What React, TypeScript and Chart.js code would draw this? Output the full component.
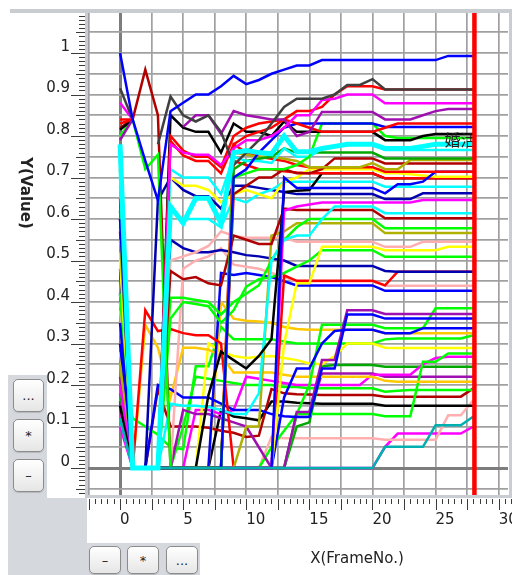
import React, { useEffect, useRef } from "react";
import { Chart, registerables } from "chart.js";

Chart.register(...registerables);

// ---------------- data ----------------
const frames = [0, 1, 2, 3, 4, 5, 6, 7, 8, 9, 10, 11, 12, 13, 14, 15, 16, 17, 18, 19, 20, 21, 22, 23, 24, 25, 26, 27, 28];
const N = null;

const cyanThick = [0.78, 0, 0, 0, 0.63, 0.59, 0.65, 0.65, 0.59, 0.76, 0.765, 0.76, 0.757, 0.8, 0.762, 0.762, 0.77, 0.775, 0.78, 0.78, 0.78, 0.77, 0.77, 0.77, 0.775, 0.78, 0.78, 0.78, 0.78];
const tealLow = [0.12, 0, 0, 0, 0, 0, 0, 0, 0, 0, 0, 0, 0, 0, 0, 0, 0, 0, 0, 0, 0, 0.051, 0.051, 0.051, 0.051, 0.103, 0.103, 0.103, 0.124];
const blueTop = [1.0, 0.84, 0.74, 0.645, 0.86, 0.88, 0.9, 0.9, 0.92, 0.945, 0.925, 0.935, 0.95, 0.96, 0.97, 0.97, 0.983, 0.983, 0.983, 0.983, 0.983, 0.983, 0.983, 0.983, 0.983, 0.983, 0.993, 0.993, 0.993];
const grayTop = [0.915, 0.84, N, 0.78, 0.895, 0.85, 0.835, 0.85, 0.81, 0.73, 0.76, 0.79, 0.83, 0.87, 0.89, 0.89, 0.89, 0.9, 0.923, 0.923, 0.937, 0.912, 0.912, 0.912, 0.912, 0.912, 0.912, 0.912, 0.912];
const magentaTop = [0.88, 0.84, N, 0, 0.78, 0.76, 0.755, 0.755, 0.73, 0.77, 0.79, 0.79, 0.8, 0.82, 0.85, 0.85, 0.887, 0.89, 0.9, 0.9, 0.9, 0.879, 0.879, 0.879, 0.879, 0.879, 0.879, 0.879, 0.879];
const purpleTop = [0.79, 0.84, N, N, N, 0.822, 0.85, 0.85, 0.805, 0.86, 0.85, 0.845, 0.84, 0.84, 0.8, 0.81, 0.858, 0.858, 0.858, 0.858, 0.858, 0.84, 0.84, 0.84, 0.85, 0.86, 0.865, 0.865, 0.865];
const redA = [0.84, 0.84, N, 0, 0.8, 0.765, 0.75, 0.75, 0.725, 0.8, 0.82, 0.83, 0.835, 0.84, 0.83, 0.82, 0.81, 0.81, 0.81, 0.81, 0.81, 0.82, 0.83, 0.83, 0.83, 0.83, 0.83, 0.83, 0.83];
const redB = [0.83, 0.84, N, 0, 0.788, 0.753, 0.74, 0.74, 0.71, 0.78, 0.8, 0.81, 0.82, 0.84, 0.86, 0.86, 0.87, 0.9, 0.92, 0.92, 0.92, 0.912, 0.912, 0.912, 0.912, 0.912, 0.912, 0.912, 0.912];
const blueB = [0.6, 0, 0, 0, 0, 0, 0, 0, 0, 0.7, 0.72, 0.76, 0.79, 0.82, 0.83, 0.83, 0.83, 0.83, 0.83, 0.83, 0.83, 0.822, 0.822, 0.822, 0.822, 0.822, 0.822, 0.822, 0.822];
const blackTop = [0.815, 0.84, N, 0, 0.85, 0.82, 0.81, 0.81, 0.76, 0.83, 0.81, 0.81, 0.8, 0.835, 0.81, 0.81, 0.81, 0.81, 0.81, 0.81, 0.81, 0.79, 0.79, 0.79, 0.8, 0.805, 0.805, 0.805, 0.805];
const greenTop = [0.8, 0.84, 0.72, 0.755, 0, 0, 0, 0, 0, 0.7, 0.71, 0.72, 0.72, 0.72, 0.73, 0.75, 0.83, 0.83, 0.83, 0.83, 0.83, 0.8, 0.795, 0.795, 0.795, 0.795, 0.795, 0.795, 0.795];
const cyanB = [0.7, 0, 0, 0, 0.72, 0.7, 0.7, 0.7, 0.66, 0.75, 0.74, 0.74, 0.735, 0.77, 0.75, 0.75, 0.77, 0.775, 0.78, 0.78, 0.78, 0.766, 0.766, 0.766, 0.766, 0.766, 0.766, 0.766, 0.766];
const darkGreenA = [0.62, 0, 0, 0, 0, 0, 0, 0, 0, 0.72, 0.74, 0.745, 0.75, 0.77, 0.76, 0.76, 0.76, 0.76, 0.76, 0.76, 0.76, 0.746, 0.746, 0.746, 0.746, 0.746, 0.746, 0.746, 0.746];
const oliveA = [0.55, 0, 0, 0, 0, 0, 0, 0, 0, 0.76, 0.755, 0.75, 0.75, 0.745, 0.74, 0.725, 0.725, 0.725, 0.725, 0.725, 0.735, 0.72, 0.72, 0.742, 0.742, 0.742, 0.742, 0.742, 0.742];
const darkRedPeak = [0.82, 0.84, 0.96, 0.85, 0, 0, 0, 0, 0, 0.66, 0.68, 0.7, 0.7, 0.72, 0.71, 0.71, 0.72, 0.746, 0.746, 0.746, 0.746, 0.734, 0.734, 0.734, 0.734, 0.734, 0.734, 0.734, 0.734];
const redC = [0.72, 0, 0, 0, 0, 0, 0, 0, 0, 0.78, 0.76, 0.75, 0.745, 0.74, 0.73, 0.725, 0.725, 0.725, 0.725, 0.725, 0.725, 0.714, 0.714, 0.714, 0.714, 0.714, 0.714, 0.714, 0.714];
const blueStep = [0.35, 0, 0, 0, 0, 0, 0, 0, 0, 0, 0, 0, 0, 0.7, 0.675, 0.675, 0.675, 0.675, 0.675, 0.675, 0.675, 0.662, 0.684, 0.684, 0.69, 0.714, 0.714, 0.714, 0.714];
const yellowA = [0.5, 0, 0, 0, 0.7, 0.68, 0.68, 0.67, 0.64, 0.66, 0.67, 0.66, 0.65, 0.69, 0.7, 0.72, 0.72, 0.72, 0.72, 0.72, 0.72, 0.71, 0.71, 0.708, 0.705, 0.702, 0.702, 0.702, 0.702];
const redD = [0.65, 0, 0, 0, 0, 0, 0, 0, 0, 0.74, 0.73, 0.72, 0.72, 0.715, 0.712, 0.71, 0.71, 0.71, 0.71, 0.71, 0.71, 0.698, 0.698, 0.698, 0.698, 0.698, 0.698, 0.698, 0.698];
const blackJump = [0.15, 0, 0, 0, 0, 0, 0, 0.175, 0.28, 0.26, 0.24, 0.27, 0.31, 0.665, 0.668, 0.67, 0.71, 0.71, 0.71, 0.71, 0.71, 0.698, 0.698, 0.698, 0.698, 0.698, 0.698, 0.698, 0.698];
const cyanC = [0.68, 0, 0, 0, 0.62, 0.6, 0.6, 0.6, 0.58, 0.65, 0.64, 0.66, 0.67, 0.69, 0.69, 0.69, 0.69, 0.69, 0.69, 0.69, 0.69, 0.678, 0.678, 0.678, 0.678, 0.678, 0.678, 0.678, 0.678];
const darkBlueA = [0.74, 0, 0, 0.645, 0.7, 0.67, 0.655, 0.655, 0.625, 0.68, 0.68, 0.675, 0.67, 0.665, 0.66, 0.66, 0.66, 0.66, 0.66, 0.66, 0.66, 0.648, 0.648, 0.648, 0.662, 0.662, 0.662, 0.662, 0.662];
const magentaB = [0.2, 0, 0, 0, 0, 0, 0, 0, 0, 0, 0, 0, 0, 0.62, 0.63, 0.635, 0.64, 0.64, 0.64, 0.64, 0.64, 0.64, 0.64, 0.64, 0.646, 0.646, 0.646, 0.646, 0.646];
const cyanD = [0.12, 0, 0, 0, 0.155, 0.15, 0.15, 0.147, 0.14, 0.13, 0.13, 0.18, 0.5, 0.55, 0.56, 0.56, 0.6, 0.63, 0.63, 0.63, 0.63, 0.614, 0.614, 0.614, 0.614, 0.614, 0.614, 0.614, 0.614];
const darkRedB = [0.57, 0, 0, 0, 0.475, 0.455, 0.46, 0.445, 0.44, 0.56, 0.55, 0.54, 0.54, 0.625, 0.622, 0.622, 0.622, 0.622, 0.622, 0.622, 0.622, 0.602, 0.602, 0.602, 0.602, 0.602, 0.602, 0.602, 0.602];
const greenB = [0.42, 0, 0, 0, 0.41, 0.41, 0.405, 0.4, 0.37, 0.4, 0.42, 0.44, 0.5, 0.55, 0.58, 0.6, 0.6, 0.6, 0.6, 0.6, 0.6, 0.578, 0.578, 0.578, 0.578, 0.578, 0.578, 0.578, 0.578];
const oliveB = [0.25, 0, 0, 0, 0, 0, 0, 0, 0, 0, 0.1, 0.1, 0.56, 0.57, 0.59, 0.59, 0.59, 0.59, 0.59, 0.59, 0.59, 0.566, 0.566, 0.566, 0.566, 0.566, 0.566, 0.566, 0.566];
const pinkA = [0.4, 0, 0, 0, 0.5, 0.51, 0.52, 0.535, 0.57, 0.56, 0.555, 0.555, 0.555, 0.555, 0.545, 0.545, 0.545, 0.545, 0.545, 0.545, 0.545, 0.533, 0.533, 0.533, 0.545, 0.545, 0.545, 0.545, 0.545];
const yellowB = [0.52, 0, 0, 0, 0, 0, 0, 0, 0, 0, 0, 0, 0, 0.3, 0.445, 0.445, 0.533, 0.533, 0.533, 0.533, 0.533, 0.525, 0.525, 0.525, 0.525, 0.525, 0.533, 0.533, 0.533];
const greenC = [0.58, 0, 0, 0, 0.36, 0.4, 0.395, 0.39, 0.35, 0.38, 0.437, 0.455, 0.46, 0.47, 0.485, 0.5, 0.525, 0.525, 0.525, 0.525, 0.525, 0.509, 0.509, 0.509, 0.509, 0.509, 0.509, 0.509, 0.509];
const darkBlueB = [0.48, 0, 0, 0, 0.55, 0.53, 0.52, 0.52, 0.525, 0.52, 0.513, 0.51, 0.505, 0.5, 0.487, 0.487, 0.487, 0.487, 0.487, 0.487, 0.487, 0.475, 0.473, 0.473, 0.473, 0.473, 0.473, 0.473, 0.473];
const redE = [0.6, 0, 0.38, 0.33, 0.335, 0.325, 0.32, 0.32, 0.3, 0, 0, 0, 0, 0.464, 0.451, 0.451, 0.451, 0.451, 0.451, 0.451, 0.451, 0.44, 0.473, 0.473, 0.473, 0.473, 0.473, 0.473, 0.473];
const pinkB = [0.38, 0, 0, 0, 0, 0.48, 0.5, 0.51, 0.53, 0.49, 0.485, 0.48, 0.47, 0.46, 0.45, 0.45, 0.45, 0.45, 0.45, 0.45, 0.45, 0.439, 0.439, 0.439, 0.439, 0.439, 0.439, 0.439, 0.439];
const blueC = [0.4, 0, 0, 0, 0, 0, 0, 0, 0.47, 0.465, 0.47, 0.465, 0.46, 0.45, 0.44, 0.44, 0.44, 0.44, 0.44, 0.44, 0.44, 0.427, 0.427, 0.427, 0.427, 0.427, 0.427, 0.427, 0.427];
const blueD = [0.42, 0, 0, 0.2, 0.19, 0.17, 0.17, 0.17, 0.155, 0.14, 0.14, 0.14, 0.13, 0.125, 0.123, 0.123, 0.24, 0.24, 0.37, 0.37, 0.37, 0.36, 0.36, 0.36, 0.36, 0.36, 0.36, 0.36, 0.36];
const blueE = [0.3, 0, 0, 0, 0, 0, 0, 0, 0, 0, 0, 0, 0, 0.17, 0.24, 0.24, 0.3, 0.33, 0.333, 0.333, 0.333, 0.325, 0.325, 0.325, 0.337, 0.337, 0.337, 0.337, 0.337];
const purpleLow = [0.22, 0, 0, 0, 0, 0.14, 0.13, 0.13, 0.12, 0.11, 0.1, 0.05, 0, 0, 0.135, 0.135, 0.26, 0.26, 0.38, 0.38, 0.38, 0.371, 0.371, 0.371, 0.371, 0.371, 0.371, 0.371, 0.371];
const greenD = [0.45, 0, 0, 0, 0, 0, 0, 0, 0, 0, 0, 0, 0, 0, 0.13, 0.2, 0.345, 0.345, 0.345, 0.345, 0.345, 0.337, 0.337, 0.337, 0.337, 0.385, 0.385, 0.385, 0.385];
const orangeA = [0.3, 0, 0, 0, 0, 0, 0, 0, 0.4, 0.36, 0.355, 0.353, 0.35, 0.34, 0.335, 0.333, 0.333, 0.333, 0.333, 0.333, 0.333, 0.325, 0.325, 0.325, 0.325, 0.325, 0.325, 0.325, 0.325];
const orangeB = [0.35, 0, 0.345, 0.29, 0.17, 0.29, 0.29, 0.285, 0.27, 0.23, 0.23, 0.23, 0.23, 0.225, 0.22, 0.22, 0.22, 0.22, 0.22, 0.22, 0.22, 0.21, 0.208, 0.208, 0.208, 0.208, 0.208, 0.208, 0.208];
const yellowC = [0.28, 0, 0, 0, 0, 0, 0, 0.3, 0.28, 0.27, 0.265, 0.268, 0.27, 0.265, 0.26, 0.252, 0.25, 0.27, 0.3, 0.3, 0.3, 0.29, 0.289, 0.289, 0.289, 0.289, 0.289, 0.289, 0.289];
const greenE = [0.3, 0.12, 0.1, 0.08, 0.05, 0.045, 0.245, 0.245, 0.34, 0.31, 0.31, 0.31, 0.31, 0.305, 0.3, 0.3, 0.3, 0.3, 0.3, 0.3, 0.3, 0.31, 0.312, 0.312, 0.312, 0.312, 0.312, 0.312, 0.32];
const greenF = [0.2, 0, 0, 0, 0, 0, 0, 0, 0, 0, 0, 0, 0.05, 0.09, 0.13, 0.13, 0.13, 0.13, 0.13, 0.13, 0.13, 0.125, 0.125, 0.125, 0.256, 0.256, 0.276, 0.276, 0.276];
const magentaC = [0.1, 0, 0, 0, 0, 0, 0.14, 0.14, 0.13, 0.14, 0.22, 0.215, 0.21, 0.205, 0.2, 0.2, 0.2, 0.2, 0.2, 0.2, 0.225, 0.225, 0.225, 0.225, 0.25, 0.265, 0.268, 0.268, 0.268];
const darkGreenB = [0.18, 0, 0, 0, 0, 0, 0, 0, 0, 0, 0, 0, 0, 0, 0.1, 0.11, 0.245, 0.248, 0.248, 0.248, 0.248, 0.244, 0.244, 0.244, 0.244, 0.244, 0.244, 0.244, 0.244];
const purpleB = [0.16, 0, 0, 0, 0, 0, 0, 0, 0, 0, 0, 0, 0, 0, 0.13, 0.13, 0.228, 0.228, 0.228, 0.228, 0.228, 0.22, 0.22, 0.22, 0.22, 0.22, 0.22, 0.22, 0.22];
const greenG = [0.25, 0, 0, 0, 0, 0.1, 0.22, 0.215, 0.21, 0.205, 0.2, 0.2, 0.2, 0.195, 0.195, 0.192, 0.192, 0.192, 0.192, 0.192, 0.192, 0.184, 0.186, 0.188, 0.188, 0.188, 0.188, 0.188, 0.188];
const darkRedLow = [0.3, 0, 0, 0.19, 0.1, 0.1, 0.1, 0.097, 0.09, 0.085, 0.075, 0.078, 0.19, 0.18, 0.178, 0.177, 0.176, 0.176, 0.176, 0.176, 0.176, 0.172, 0.172, 0.172, 0.172, 0.172, 0.172, 0.172, 0.192];
const blackLow = [0.16, 0, 0, 0, 0, 0, 0, 0, 0.14, 0.124, 0.12, 0.115, 0.16, 0.16, 0.157, 0.156, 0.155, 0.155, 0.155, 0.155, 0.155, 0.15, 0.15, 0.15, 0.15, 0.15, 0.15, 0.15, 0.15];
const pinkLow = [0.35, 0, 0, 0, 0, 0, 0, 0, 0, 0, 0, 0, 0.075, 0.072, 0.072, 0.072, 0.072, 0.072, 0.072, 0.072, 0.072, 0.068, 0.068, 0.068, 0.068, 0.068, 0.127, 0.127, 0.164];
const magentaLow = [0.14, 0, 0, 0, 0, 0, 0, 0, 0, 0, 0, 0, 0, 0, 0, 0, 0, 0, 0, 0, 0, 0.051, 0.083, 0.083, 0.083, 0.083, 0.083, 0.083, 0.1];

// first entry is drawn on top
const seriesValues = [
  cyanThick, tealLow, blueTop, grayTop, magentaTop, purpleTop, redA, redB, blueB, blackTop, greenTop,
  cyanB, darkGreenA, oliveA, darkRedPeak, redC, blueStep, yellowA, redD, blackJump, cyanC, darkBlueA,
  magentaB, cyanD, darkRedB, greenB, oliveB, pinkA, yellowB, greenC, darkBlueB, redE, pinkB, blueC,
  blueD, blueE, purpleLow, greenD, orangeA, orangeB, yellowC, greenE, greenF, magentaC, darkGreenB,
  purpleB, greenG, darkRedLow, blackLow, pinkLow, magentaLow,
];
const seriesColors = [
  "#00ffff", "#00b0b0", "#0000ff", "#404040", "#ff00ff", "#a010b0", "#ff0000", "#ff0000", "#0000ff", "#000000", "#00ff00",
  "#00ffff", "#00a800", "#b0b000", "#b00000", "#ff0000", "#0000ff", "#ffff00", "#ff0000", "#000000", "#00ffff", "#0000b0",
  "#ff00ff", "#00ffff", "#b00000", "#00ff00", "#b0b000", "#ffafaf", "#ffff00", "#00ff00", "#0000b0", "#ff0000", "#ffafaf", "#0000ff",
  "#0000ff", "#0000ff", "#a010b0", "#00ff00", "#ffc800", "#ffc800", "#ffff00", "#00ff00", "#00ff00", "#ff00ff", "#00a800",
  "#a010b0", "#00ff00", "#b00000", "#000000", "#ffafaf", "#ff00ff",
];
const seriesWidths = seriesValues.map((_, i) => (i === 0 ? 5 : 2.5));

const xLabels = [0, 5, 10, 15, 20, 25, 30];
const yLabels = [0, 0.1, 0.2, 0.3, 0.4, 0.5, 0.6, 0.7, 0.8, 0.9, 1, 1.1];
const markerFrame = 28;
const lineLabel = "婚活";
const lineLabelFrame = 25.7;
const lineLabelValue = 0.79;

const xTitle = "X(FrameNo.)";
const yTitle = "Y(Value)";

// ---------------- layout ----------------
const W = 512;
const H = 575;
const PL = 88, PT = 13, PR = 508, PB = 495;
const FONT = "'DejaVu Sans', 'Liberation Sans', sans-serif";
const PANEL = "#d5d9dd";

const decorPlugin = {
  id: "decor",
  beforeDraw(chart: any) {
    const c = chart.ctx;
    c.save();
    c.fillStyle = "#ffffff";
    c.fillRect(0, 0, W, H);
    c.restore();
  },
  afterDatasetsDraw(chart: any) {
    const c = chart.ctx;
    const xs = chart.scales.x;
    const ys = chart.scales.y;
    c.save();
    c.fillStyle = "#222";
    c.font = "16px 'Noto Sans CJK JP', sans-serif";
    c.textAlign = "left";
    c.textBaseline = "middle";
    c.fillText(lineLabel, xs.getPixelForValue(lineLabelFrame), ys.getPixelForValue(lineLabelValue));
    c.restore();
    const rx = xs.getPixelForValue(markerFrame) + 1;
    c.save();
    c.strokeStyle = "#ff0000";
    c.lineWidth = 4.5;
    c.beginPath();
    c.moveTo(rx, PT);
    c.lineTo(rx, PB);
    c.stroke();
    c.restore();
  },
  afterDraw(chart: any) {
    const c = chart.ctx;
    const xs = chart.scales.x;
    const ys = chart.scales.y;
    c.save();
    c.strokeStyle = "#3a3a3a";
    c.lineWidth = 1;
    for (let k = -6; k <= 109; k++) {
      const y = Math.round(ys.getPixelForValue(k / 100)) + 0.5;
      if (y < PT || y > PB) continue;
      const len = k % 10 === 0 ? 14 : k % 5 === 0 ? 9 : 6;
      c.beginPath();
      c.moveTo(85, y);
      c.lineTo(85 - len, y);
      c.stroke();
    }
    for (let m = -6; m <= 62; m++) {
      const x = Math.round(xs.getPixelForValue(m / 2)) + 0.5;
      if (x < PL || x > W) continue;
      const len = m % 5 === 0 ? 11 : 5;
      c.beginPath();
      c.moveTo(x, 499);
      c.lineTo(x, 499 + len);
      c.stroke();
    }
    c.fillStyle = "#222";
    c.font = `15px ${FONT}`;
    c.textBaseline = "middle";
    c.textAlign = "right";
    yLabels.forEach((v) => {
      const y = ys.getPixelForValue(v) - 6;
      c.fillText(String(v), 70, y);
    });
    c.textAlign = "left";
    xLabels.forEach((v) => {
      c.fillText(String(v), xs.getPixelForValue(v), 520);
    });
    c.textAlign = "center";
    c.fillText(xTitle, 357, 559);
    c.save();
    c.translate(25, 193);
    c.rotate(Math.PI / 2);
    c.font = `bold 15px ${FONT}`;
    c.fillText(yTitle, 0, 0);
    c.restore();
    c.fillStyle = "#ffffff";
    c.fillRect(0, 0, W, 9);
    c.fillStyle = "#c9cdd1";
    c.fillRect(10, 9, W - 10, 4);
    c.fillRect(85, 9, 3, PB - 9 + 3);
    c.fillRect(85, PB, W - 85, 3);
    c.fillRect(509, 9, 3, PB - 9);
    c.restore();
  },
};

function Btn({ label, style }: { label: string; style: React.CSSProperties }) {
  return (
    <div
      style={{
        position: "absolute",
        boxSizing: "border-box",
        border: "1px solid #8c8c8c",
        borderRadius: 5,
        background: "linear-gradient(#ffffff, #e6e6e6)",
        boxShadow: "0 1px 1px rgba(0,0,0,0.15)",
        fontFamily: FONT,
        fontSize: 13,
        color: "#222",
        display: "flex",
        alignItems: "center",
        justifyContent: "center",
        ...style,
      }}
    >
      {label}
    </div>
  );
}

export default function App() {
  const ref = useRef<HTMLCanvasElement | null>(null);

  useEffect(() => {
    if (!ref.current) return;
    const xGrid: number[] = [];
    for (let g = -2.5; g <= 30; g += 2.5) xGrid.push(g);
    const yGrid: number[] = [];
    for (let g = -1; g <= 21; g++) yGrid.push(g * 0.05);

    const datasets = seriesValues.map((vals, i) => ({
      label: "s" + i,
      data: vals.map((y, j) => ({ x: frames[j], y })),
      borderColor: seriesColors[i],
      backgroundColor: seriesColors[i],
      borderWidth: seriesWidths[i],
      pointRadius: 0,
      pointHoverRadius: 0,
      tension: 0,
      fill: false,
      spanGaps: false,
    }));

    const gridColor = (ctx: any) => (ctx.tick && Math.abs(ctx.tick.value) < 1e-9 ? "#7d7d7d" : "#a0a0a0");
    const gridWidth = (ctx: any) => (ctx.tick && Math.abs(ctx.tick.value) < 1e-9 ? 3 : 1.7);

    const chart = new Chart(ref.current, {
      type: "line",
      data: { datasets },
      options: {
        animation: false,
        responsive: false,
        events: [],
        layout: { padding: { left: PL, top: PT, right: W - PR, bottom: H - PB } },
        plugins: { legend: { display: false }, tooltip: { enabled: false }, title: { display: false } },
        scales: {
          x: {
            type: "linear",
            min: -2.54,
            max: 30.74,
            afterFit: (s: any) => {
              s.height = 0;
            },
            afterBuildTicks: (s: any) => {
              s.ticks = xGrid.map((value) => ({ value }));
            },
            ticks: { display: false },
            border: { display: false },
            grid: { drawTicks: false, color: gridColor, lineWidth: gridWidth },
          },
          y: {
            type: "linear",
            min: -0.065,
            max: 1.0964,
            afterFit: (s: any) => {
              s.width = 0;
            },
            afterBuildTicks: (s: any) => {
              s.ticks = yGrid.map((value) => ({ value }));
            },
            ticks: { display: false },
            border: { display: false },
            grid: { drawTicks: false, color: gridColor, lineWidth: gridWidth },
          },
        },
      } as any,
      plugins: [decorPlugin],
    });
    return () => chart.destroy();
  }, []);

  return (
    <div style={{ position: "fixed", left: 0, top: 0, width: W, height: H, background: "#fff", overflow: "hidden" }}>
      <canvas ref={ref} width={W} height={H} style={{ position: "absolute", left: 0, top: 0, width: W, height: H }} />
      <div style={{ position: "absolute", left: 8, top: 375, width: 39, height: 200, background: PANEL }} />
      <div style={{ position: "absolute", left: 8, top: 498, width: 79, height: 77, background: PANEL }} />
      <div style={{ position: "absolute", left: 87, top: 543, width: 113, height: 32, background: PANEL }} />
      <Btn label="..." style={{ left: 13, top: 379, width: 31, height: 33 }} />
      <Btn label="*" style={{ left: 13, top: 419, width: 31, height: 33 }} />
      <Btn label="–" style={{ left: 13, top: 459, width: 31, height: 33 }} />
      <Btn label="–" style={{ left: 89, top: 546, width: 32, height: 28 }} />
      <Btn label="*" style={{ left: 127, top: 546, width: 32, height: 28 }} />
      <Btn label="..." style={{ left: 166, top: 546, width: 32, height: 28 }} />
    </div>
  );
}
